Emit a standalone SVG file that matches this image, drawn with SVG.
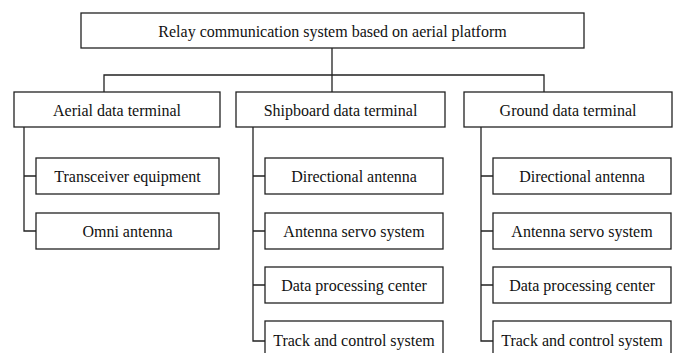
<svg xmlns="http://www.w3.org/2000/svg" width="681" height="353" viewBox="0 0 681 353">
<style>
rect{fill:#fff;stroke:#222;stroke-width:1.3}
text{font-family:"Liberation Serif","Times New Roman","DejaVu Serif",serif;font-size:16px;fill:#111;text-anchor:middle;dominant-baseline:central}
.c{fill:none;stroke:#222;stroke-width:1.3}
</style>
<rect width="681" height="353" style="fill:#fff;stroke:none"/>
<g id="connectors">
<path class="c" d="M332 48V92M104 92V75H544V92"/>
<path class="c" d="M24 127V231H36M24 176H36"/>
<path class="c" d="M253 127V341H265M253 176H265M253 231H265M253 285H265"/>
<path class="c" d="M481 127V341H493M481 176H493M481 231H493M481 285H493"/>
</g>
<g id="root"><rect x="81" y="13" width="503" height="35"/><text x="332.5" y="31">Relay communication system based on aerial platform</text></g>
<g id="aerial"><rect x="14" y="92" width="206" height="35"/><text x="117" y="110">Aerial data terminal</text></g>
<g id="shipboard"><rect x="236" y="92" width="209" height="35"/><text x="340.5" y="110">Shipboard data terminal</text></g>
<g id="ground"><rect x="464" y="92" width="208" height="35"/><text x="568" y="110">Ground data terminal</text></g>
<g id="a1"><rect x="36" y="158" width="183" height="36"/><text x="127.5" y="176">Transceiver equipment</text></g>
<g id="a2"><rect x="36" y="213" width="183" height="36"/><text x="127.5" y="231">Omni antenna</text></g>
<g id="s1"><rect x="265" y="158" width="178" height="36"/><text x="354" y="176">Directional antenna</text></g>
<g id="s2"><rect x="265" y="213" width="178" height="36"/><text x="354" y="231">Antenna servo system</text></g>
<g id="s3"><rect x="265" y="267" width="178" height="36"/><text x="354" y="285">Data processing center</text></g>
<g id="s4"><rect x="265" y="321" width="178" height="40"/><text x="354" y="340">Track and control system</text></g>
<g id="g1"><rect x="493" y="158" width="178" height="36"/><text x="582" y="176">Directional antenna</text></g>
<g id="g2"><rect x="493" y="213" width="178" height="36"/><text x="582" y="231">Antenna servo system</text></g>
<g id="g3"><rect x="493" y="267" width="178" height="36"/><text x="582" y="285">Data processing center</text></g>
<g id="g4"><rect x="493" y="321" width="178" height="40"/><text x="582" y="340">Track and control system</text></g>
</svg>
